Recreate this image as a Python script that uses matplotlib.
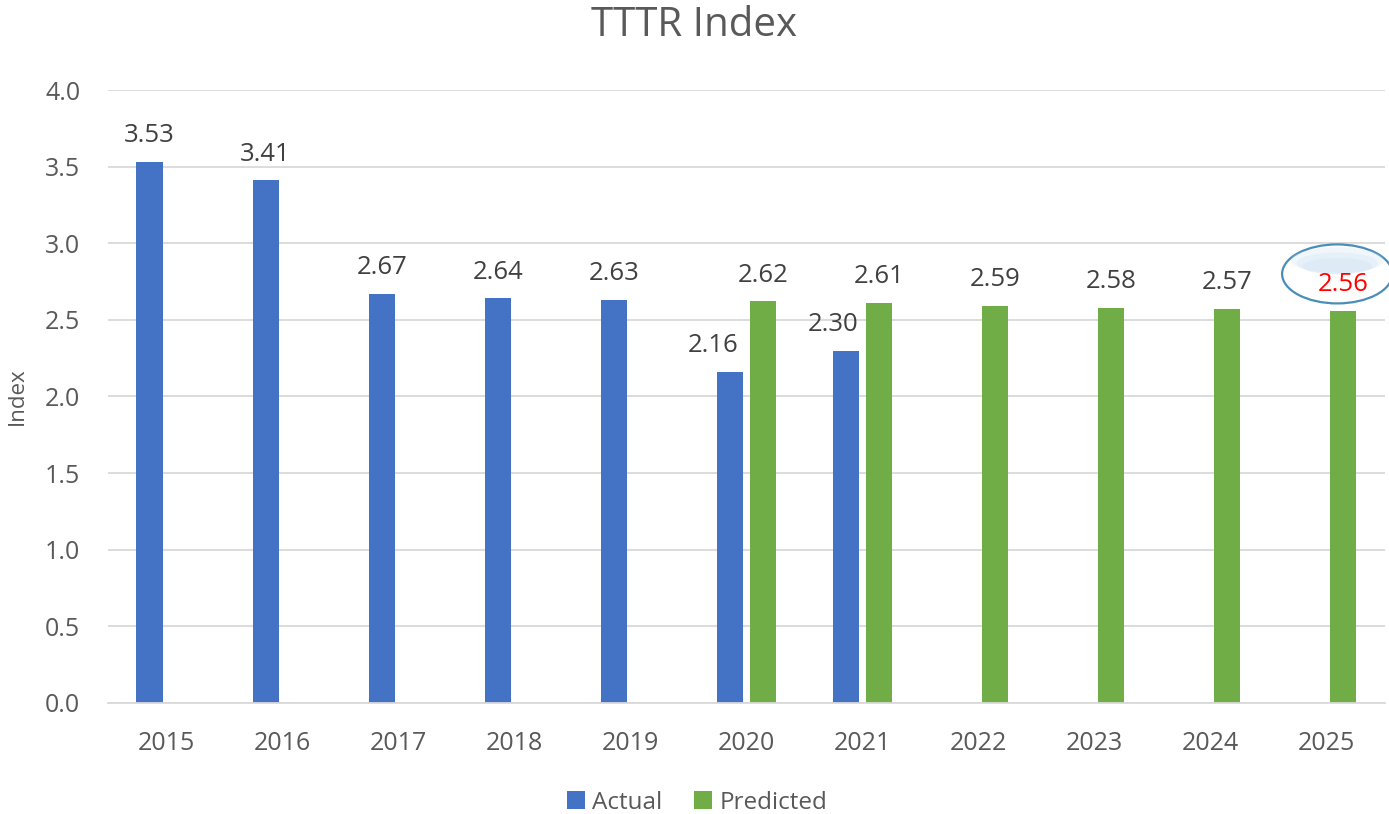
import numpy as np
import matplotlib
matplotlib.use("Agg")
import matplotlib.pyplot as plt
from matplotlib.patches import Ellipse

plt.rcParams['font.family'] = ['Open Sans', 'DejaVu Sans']

years = ['2015', '2016', '2017', '2018', '2019', '2020', '2021', '2022', '2023', '2024', '2025']
actual = [3.53, 3.41, 2.67, 2.64, 2.63, 2.16, 2.30, None, None, None, None]
predicted = [None, None, None, None, None, 2.62, 2.61, 2.59, 2.58, 2.57, 2.56]

blue = '#4472C4'
green = '#70AD47'
grid_c = '#D9D9D9'
txt_c = '#595959'
lbl_c = '#404040'

fig = plt.figure(figsize=(13.89, 8.14), dpi=100)
ax = fig.add_axes([0.0778, 0.1364, 0.9192, 0.753])

x = np.arange(len(years))
w = 0.225
off = 0.143

ax_x = [i - off for i, v in enumerate(actual) if v is not None]
ax_v = [v for v in actual if v is not None]
px_x = [i + off for i, v in enumerate(predicted) if v is not None]
px_v = [v for v in predicted if v is not None]

ax.bar(ax_x, ax_v, width=w, color=blue, label='Actual', zorder=3)
ax.bar(px_x, px_v, width=w, color=green, label='Predicted', zorder=3)

# data labels, a couple nudged left like in the original
nudge = {5: -12, 6: -9}
for i, (xx, v) in enumerate(zip(ax_x, ax_v)):
    ax.annotate(f'{v:.2f}', (xx, v), xytext=(nudge.get(i, 0), 19),
                textcoords='offset points', ha='center', va='center',
                fontsize=18.5, color=lbl_c, zorder=5)
for xx, v in zip(px_x, px_v):
    col = 'red' if xx > 9.5 else lbl_c
    ax.annotate(f'{v:.2f}', (xx, v), xytext=(0, 19),
                textcoords='offset points', ha='center', va='center',
                fontsize=18.5, color=col, zorder=5)

# highlight ring around the last forecast (light blue sheen near the top)
ring = Ellipse((10.09, 2.80), 0.95, 0.385, facecolor='white',
               edgecolor='#4A8DB8', lw=1.6, zorder=4, clip_on=False)
ax.add_patch(ring)
for k, a in enumerate([0.25, 0.25, 0.25]):
    ax.add_patch(Ellipse((10.09, 2.89 - 0.02 * k), 0.80 - 0.1 * k, 0.17 - 0.03 * k,
                         facecolor='#C9DFF2', edgecolor='none', alpha=a,
                         zorder=4, clip_on=False))

ax.set_xlim(-0.5, len(years) - 0.5)
ax.set_ylim(0, 4.0)
ax.set_yticks(np.arange(0, 4.01, 0.5))
ax.set_yticklabels([f'{t:.1f}' for t in np.arange(0, 4.01, 0.5)])
ax.set_xticks(x)
ax.set_xticklabels(years)
ax.tick_params(axis='both', length=0, labelsize=18, colors=txt_c)
ax.tick_params(axis='x', pad=20)
ax.tick_params(axis='y', pad=20)
ax.yaxis.grid(True, color=grid_c, lw=1.3, zorder=0)
for s in ['top', 'right', 'left']:
    ax.spines[s].set_visible(False)
ax.spines['bottom'].set_color(grid_c)
ax.spines['bottom'].set_linewidth(1.3)
ax.spines['bottom'].set_zorder(3)

ax.set_ylabel('Index', fontsize=16, color=txt_c, labelpad=12)
fig.text(0.4995, 0.968, 'TTTR Index', ha='center', va='center',
         fontsize=29, color=txt_c)

fig.legend(loc='center', bbox_to_anchor=(0.502, 0.014), ncol=2, frameon=False,
           fontsize=17.5, labelcolor=txt_c, handlelength=0.75, handleheight=0.75,
           handletextpad=0.3, columnspacing=1.3)

fig.savefig('out.png', dpi=100)
